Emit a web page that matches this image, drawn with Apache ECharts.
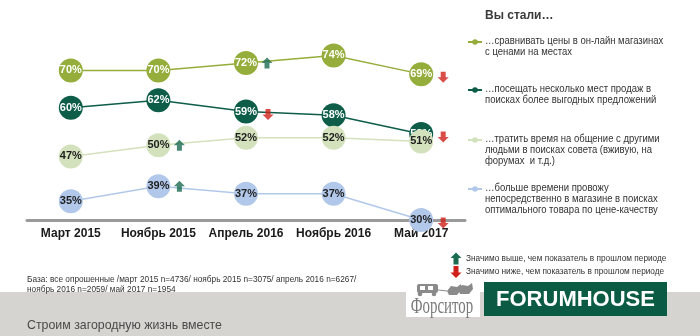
<!DOCTYPE html>
<html><head><meta charset="utf-8">
<script src="https://cdn.jsdelivr.net/npm/echarts@6/dist/echarts.min.js"></script>
<style>html,body{margin:0;padding:0;background:#fff}#c{width:700px;height:336px}</style>
</head><body><div id="c"></div>
<script>
var categories = ['Март 2015', 'Ноябрь 2015', 'Апрель 2016', 'Ноябрь 2016', 'Май 2017'];
var seriesNames = [
  '…сравнивать цены в он-лайн магазинах\nс ценами на местах',
  '…посещать несколько мест продаж в\nпоисках более выгодных предложений',
  '…тратить время на общение с другими\nлюдьми в поисках совета (вживую, на\nфорумах  и т.д.)',
  '…больше времени провожу\nнепосредственно в магазине в поисках\nоптимального товара по цене-качеству'
];
var compareOnline = [70, 70, 72, 74, 69];
var visitSeveral = [60, 62, 59, 58, 53];
var talkOthers = [47, 50, 52, 52, 51];
var moreTimeStore = [35, 39, 37, 37, 30];
// significance: 1 = significantly higher, -1 = significantly lower than previous period
var sigCompareOnline = [0, 0, 1, 0, -1];
var sigVisitSeveral = [0, 0, -1, 0, -1];
var sigTalkOthers = [0, 1, 0, 0, 0];
var sigMoreTimeStore = [0, 1, 0, 0, -1];
var legendTitle = 'Вы стали…';
var sigUpText = 'Значимо выше, чем показатель в прошлом периоде';
var sigDownText = 'Значимо ниже, чем показатель в прошлом периоде';
var footnote = 'База: все опрошенные /март 2015 n=4736/ ноябрь 2015 n=3075/ апрель 2016 n=6267/\nноябрь 2016 n=2059/ май 2017 n=1954';
var slogan = 'Строим загородную жизнь вместе';

var values = [compareOnline, visitSeveral, talkOthers, moreTimeStore];
var sigs = [sigCompareOnline, sigVisitSeveral, sigTalkOthers, sigMoreTimeStore];
var colors = ['#95ad3b', '#0d5d48', '#d3e1bd', '#b2c8ea'];
var labelColors = ['#ffffff', '#ffffff', '#1e1e1e', '#1e1e1e'];
var upColor = '#1b6b50', downColor = '#d0201a';
var upPath = 'path://M5.5,0 L11,5.5 L8,5.5 L8,11 L3,11 L3,5.5 L0,5.5 Z';
var downPath = 'path://M3,0 L8,0 L8,5.5 L11,5.5 L5.5,11 L0,5.5 L3,5.5 Z';
var FONT = 'Liberation Sans, Arial, sans-serif';

var series = values.map(function (v, i) {
  return {
    name: seriesNames[i], type: 'line', data: v, z: 2 + i,
    symbol: 'circle', symbolSize: 24,
    itemStyle: { color: colors[i] },
    lineStyle: { color: colors[i], width: 1.5 },
    label: { show: true, position: 'inside', formatter: '{c}%', color: labelColors[i],
      fontWeight: 'bold', fontSize: 11, fontFamily: FONT },
    emphasis: { disabled: true },
    animation: false
  };
});
var upData = [], downData = [];
sigs.forEach(function (s, i) {
  s.forEach(function (f, j) {
    if (f === 1) upData.push([j, values[i][j]]);
    if (f === -1) downData.push([j, values[i][j]]);
  });
});
series.push({ type: 'scatter', data: upData, symbol: upPath, symbolSize: [11, 11], symbolOffset: [21, 0],
  itemStyle: { color: upColor }, z: 10, silent: true, animation: false });
series.push({ type: 'scatter', data: downData, symbol: downPath, symbolSize: [11, 11], symbolOffset: [22, 3],
  itemStyle: { color: downColor }, z: 10, silent: true, animation: false });

function arrowPts(x, y, up) {
  // 11 wide, 12 tall
  var p = up ? [[5.5,0],[11,5.5],[8,5.5],[8,12],[3,12],[3,5.5],[0,5.5]]
             : [[3,0],[8,0],[8,6.5],[11,6.5],[5.5,12],[0,6.5],[3,6.5]];
  return p.map(function (q) { return [q[0] + x, q[1] + y]; });
}

var graphics = [];
graphics.push({ type: 'text', x: 485, y: 10, style: { text: legendTitle, font: 'bold 12px ' + FONT, fill: '#3a3a3a' } });
var legendY = [42, 90, 140, 189];
seriesNames.forEach(function (n, i) {
  graphics.push({ type: 'line', shape: { x1: 468, y1: legendY[i], x2: 482, y2: legendY[i] }, style: { stroke: colors[i], lineWidth: 2 } });
  graphics.push({ type: 'circle', shape: { cx: 475, cy: legendY[i], r: 2.8 }, style: { fill: colors[i] } });
  graphics.push({ type: 'text', x: 485, y: legendY[i] - 6, scaleX: 0.95, style: { text: n, font: '10px ' + FONT, fill: '#333', lineHeight: 11 } });
});
// significance legend
graphics.push({ type: 'polygon', shape: { points: arrowPts(450.5, 252.5, true) }, style: { fill: upColor } });
graphics.push({ type: 'polygon', shape: { points: arrowPts(450.5, 266, false) }, style: { fill: downColor } });
graphics.push({ type: 'text', x: 466, y: 259, scaleX: 0.92, style: { text: sigUpText, font: '9px ' + FONT, fill: '#333', verticalAlign: 'middle' } });
graphics.push({ type: 'text', x: 466, y: 272, scaleX: 0.92, style: { text: sigDownText, font: '9px ' + FONT, fill: '#333', verticalAlign: 'middle' } });
// footnote
graphics.push({ type: 'text', x: 27, y: 275, scaleX: 0.92, style: { text: footnote, font: '9px ' + FONT, fill: '#333', lineHeight: 9.5 } });
// bottom band
graphics.push({ type: 'rect', shape: { x: 0, y: 292, width: 700, height: 44 }, style: { fill: '#d5d4d0' }, z: -1 });
graphics.push({ type: 'text', x: 27, y: 325, scaleX: 0.95, style: { text: slogan, font: '13px ' + FONT, fill: '#4a4a4a', verticalAlign: 'middle' } });
// Форситор logo
graphics.push({ type: 'rect', shape: { x: 406, y: 283, width: 74, height: 34 }, style: { fill: '#ffffff' } });
graphics.push({ type: 'rect', shape: { x: 417, y: 284, width: 21, height: 9, r: 2 }, style: { fill: '#8a8a8a' } });
graphics.push({ type: 'rect', shape: { x: 420, y: 286, width: 5, height: 4 }, style: { fill: '#ffffff' } });
graphics.push({ type: 'rect', shape: { x: 428, y: 286, width: 5, height: 4 }, style: { fill: '#ffffff' } });
graphics.push({ type: 'circle', shape: { cx: 420, cy: 294, r: 2.3 }, style: { fill: '#8a8a8a' } });
graphics.push({ type: 'circle', shape: { cx: 434, cy: 294, r: 2.3 }, style: { fill: '#8a8a8a' } });
graphics.push({ type: 'line', shape: { x1: 438, y1: 290, x2: 447, y2: 291 }, style: { stroke: '#8a8a8a', lineWidth: 1 } });
graphics.push({ type: 'polygon', shape: { points: [[447,291],[451,286],[457,287],[461,284],[461,290],[457,295],[449,295]] }, style: { fill: '#8a8a8a' } });
graphics.push({ type: 'polygon', shape: { points: [[458,289],[462,285],[468,286],[472,283],[473,289],[469,294],[460,294]] }, style: { fill: '#8a8a8a' } });
graphics.push({ type: 'text', x: 442, y: 307, scaleX: 0.62, style: { text: 'Форситор', font: '24px Liberation Serif, serif', fill: '#7a7a7a', align: 'center', verticalAlign: 'middle' } });
// FORUMHOUSE logo
graphics.push({ type: 'rect', shape: { x: 484, y: 282, width: 183, height: 34 }, style: { fill: '#0b5a44' } });
graphics.push({ type: 'text', x: 575.5, y: 299.5, style: { text: 'FORUMHOUSE', font: 'bold 22px ' + FONT, fill: '#ffffff', align: 'center', verticalAlign: 'middle' } });

var chart = echarts.init(document.getElementById('c'), null, { renderer: 'canvas' });
chart.setOption({
  animation: false,
  grid: { left: 27, width: 438, top: 33, bottom: 116 },
  xAxis: {
    type: 'category', data: categories, boundaryGap: true,
    axisLine: { lineStyle: { color: '#9a9a9a', width: 3 } },
    axisTick: { show: false },
    axisLabel: { interval: 0, color: '#1a1a1a', fontWeight: 'bold', fontSize: 12, fontFamily: FONT, margin: 8 }
  },
  yAxis: { type: 'value', min: 30, max: 80, show: false, splitLine: { show: false } },
  series: series,
  graphic: graphics
});
</script>
</body></html>
